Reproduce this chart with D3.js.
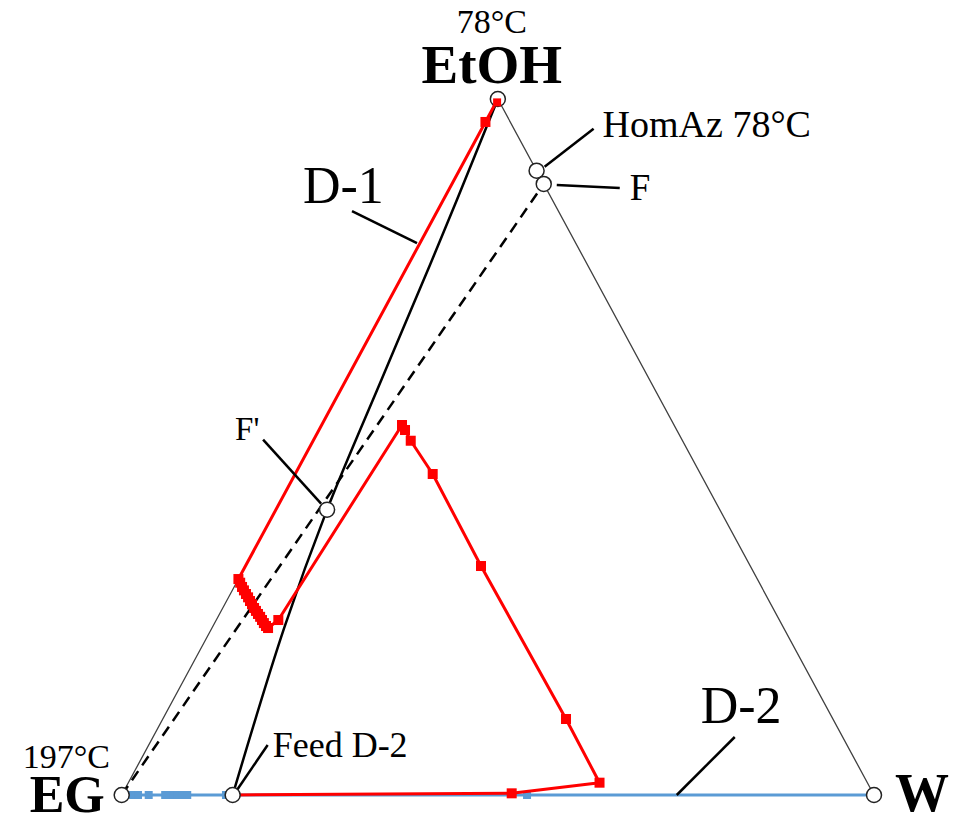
<!DOCTYPE html>
<html>
<head>
<meta charset="utf-8">
<script src="https://cdn.jsdelivr.net/npm/d3@7/dist/d3.min.js"></script>
<style>
  html, body { margin: 0; padding: 0; background: #fff; }
  svg { display: block; }
  text { font-family: "Liberation Serif", "Times New Roman", serif; fill: #000; }
</style>
</head>
<body>
<svg id="chart" width="957" height="822"></svg>
<script>
// ---- DATA: compositions as [EtOH fraction, Water fraction]; EG = 1 - EtOH - W ----
const vertices = { EtOH: [1, 0], EG: [0, 0], W: [0, 1] };

// special points
const homAz = [0.897, 0.103];
const feedF = [0.878, 0.122];
const feedFPrime = [0.41, 0.068];
const feedD2 = [0, 0.1475];

// black solid line (EtOH -> F' -> Feed D-2)
const blackLine = [[1, 0], [0.855, 0.018], [0.7615, 0.029], [0.596, 0.047], [0.41, 0.068], [0.24, 0.096], [0, 0.1475]];

// dashed mixing line EG -> F
const dashedLine = [[0, 0], [0.878, 0.122]];

// D-1 column profile (red)
const d1Profile = [
  [0.998, 0], [0.967, 0], [0.3103, 0],
  [0.3050, 0.0050], [0.2989, 0.0105], [0.2940, 0.0155], [0.2888, 0.0208],
  [0.2840, 0.0260], [0.2787, 0.0312], [0.2740, 0.0362], [0.2687, 0.0416],
  [0.2645, 0.0462], [0.2601, 0.0511], [0.2560, 0.0560], [0.2514, 0.0608],
  [0.2470, 0.0655], [0.2428, 0.0704], [0.2399, 0.0746],
  [0.2514, 0.0825],
  [0.5316, 0.1068], [0.5244, 0.1144], [0.509, 0.1297], [0.4612, 0.1828],
  [0.329, 0.3131], [0.1092, 0.536], [0.0177, 0.6263], [0.0024, 0.5172],
  [0, 0.1475]
];
const d1Markers = d1Profile.slice(0, d1Profile.length - 1);

// D-2 column profile (blue), along EG-W edge
const d2Profile = [
  [0, 0], [0, 0.015], [0, 0.0217], [0, 0.0359],
  [0, 0.0578], [0, 0.0635], [0, 0.0691], [0, 0.0748], [0, 0.0804], [0, 0.0871],
  [0, 0.1386], [0, 0.5388], [0, 1]
];
const d2Markers = d2Profile.slice(1, d2Profile.length - 1);

// ---- SCALES ----
// cartesian helper: u = W + E/2, v = E
const xScale = d3.scaleLinear().domain([0, 1]).range([121.7, 874]);
const yScale = d3.scaleLinear().domain([0, 1]).range([795, 99]);
const proj = p => [xScale(p[1] + p[0] / 2), yScale(p[0])];

const svg = d3.select("#chart");
const line = d3.line().x(d => proj(d)[0]).y(d => proj(d)[1]);
const smooth = d3.line().x(d => proj(d)[0]).y(d => proj(d)[1]).curve(d3.curveCatmullRom);

// triangle edges
svg.append("path")
  .attr("d", line([vertices.EtOH, vertices.EG, vertices.W, vertices.EtOH]))
  .attr("fill", "none").attr("stroke", "#404040").attr("stroke-width", 1.3);

// dashed line
svg.append("path").attr("d", line(dashedLine))
  .attr("fill", "none").attr("stroke", "#000").attr("stroke-width", 2.5)
  .attr("stroke-dasharray", "11,7");

// black solid line
svg.append("path").attr("d", smooth(blackLine))
  .attr("fill", "none").attr("stroke", "#000").attr("stroke-width", 2.5);

// blue D-2
const blue = "#5b9bd5";
svg.append("path").attr("d", line(d2Profile))
  .attr("fill", "none").attr("stroke", blue).attr("stroke-width", 3);
svg.selectAll("rect.d2").data(d2Markers).enter().append("rect")
  .attr("class", "d2")
  .attr("x", d => proj(d)[0] - 4).attr("y", d => proj(d)[1] - 4)
  .attr("width", 8).attr("height", 8).attr("fill", blue);

// red D-1
const red = "#ff0000";
svg.append("path").attr("d", line(d1Profile))
  .attr("fill", "none").attr("stroke", red).attr("stroke-width", 3)
  .attr("stroke-linejoin", "round");
svg.selectAll("rect.d1").data(d1Markers).enter().append("rect")
  .attr("class", "d1")
  .attr("x", d => proj(d)[0] - 5).attr("y", d => proj(d)[1] - 5)
  .attr("width", 10).attr("height", 10).attr("fill", red);

// leader lines: anchor point + pixel offsets
const leaders = [
  { at: homAz, from: [8, -4], to: [57, -42] },
  { at: feedF, from: [13, 1], to: [76, 4] },
  { at: feedFPrime, from: [-6, -6], to: [-64, -70] },
  { at: feedD2, from: [3, -3], to: [35, -50] },
  { at: [0.793, 0], from: [-3, 0], to: [-68, -32] },
  { at: [0, 0.7378], from: [0, 0], to: [58, -58] }
];
svg.selectAll("line.leader").data(leaders).enter().append("line")
  .attr("class", "leader")
  .attr("x1", d => proj(d.at)[0] + d.from[0]).attr("y1", d => proj(d.at)[1] + d.from[1])
  .attr("x2", d => proj(d.at)[0] + d.to[0]).attr("y2", d => proj(d.at)[1] + d.to[1])
  .attr("stroke", "#000").attr("stroke-width", 2.5);

// open circles
const circles = [vertices.EtOH, vertices.EG, vertices.W, homAz, feedF, feedFPrime, feedD2];
svg.selectAll("circle.pt").data(circles).enter().append("circle")
  .attr("class", "pt")
  .attr("cx", d => proj(d)[0]).attr("cy", d => proj(d)[1]).attr("r", 7.5)
  .attr("fill", "#fff").attr("stroke", "#222").attr("stroke-width", 1.5);
// red marker visible inside apex circle
svg.append("rect")
  .attr("x", proj(d1Profile[0])[0] - 4).attr("y", proj(d1Profile[0])[1] - 2)
  .attr("width", 8).attr("height", 8).attr("fill", red);

// labels
const labels = [
  { at: vertices.EtOH, text: "EtOH", dx: -6, dy: -16, size: 55, weight: "bold", anchor: "middle" },
  { at: vertices.EtOH, text: "78°C", dx: -6, dy: -66, size: 34, weight: "normal", anchor: "middle" },
  { at: vertices.EG, text: "EG", dx: -92, dy: 17, size: 52, weight: "bold", anchor: "start" },
  { at: vertices.EG, text: "197°C", dx: -99, dy: -27, size: 34, weight: "normal", anchor: "start" },
  { at: vertices.W, text: "W", dx: 21, dy: 16, size: 54, weight: "bold", anchor: "start" },
  { at: homAz, text: "HomAz 78°C", dx: 66, dy: -34, size: 38, weight: "normal", anchor: "start" },
  { at: feedF, text: "F", dx: 86, dy: 16, size: 37, weight: "normal", anchor: "start" },
  { at: feedFPrime, text: "F'", dx: -92, dy: -70, size: 33, weight: "normal", anchor: "start" },
  { at: feedD2, text: "Feed D-2", dx: 40, dy: -38, size: 36, weight: "normal", anchor: "start" },
  { at: [0.793, 0], text: "D-1", dx: -117, dy: -40, size: 52, weight: "normal", anchor: "start" },
  { at: [0, 0.7378], text: "D-2", dx: 24, dy: -72, size: 52, weight: "normal", anchor: "start" }
];
svg.selectAll("text.lbl").data(labels).enter().append("text")
  .attr("class", "lbl")
  .attr("x", d => proj(d.at)[0] + d.dx).attr("y", d => proj(d.at)[1] + d.dy)
  .attr("font-size", d => d.size).attr("font-weight", d => d.weight)
  .attr("text-anchor", d => d.anchor)
  .text(d => d.text);
</script>
</body>
</html>
